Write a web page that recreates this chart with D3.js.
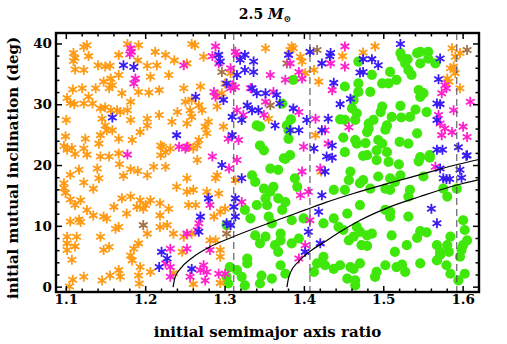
<!DOCTYPE html>
<html>
<head>
<meta charset="utf-8">
<script src="https://cdn.jsdelivr.net/npm/d3@7"></script>
<style>
  body { margin: 0; background: #fff; }
  svg text { font-family: "DejaVu Serif", serif; font-weight: bold; fill: #000; }
</style>
</head>
<body>
<svg id="chart" width="507" height="344"></svg>
<script>
// Runs, one array per outcome colour: [initial semimajor axis ratio, initial mutual inclination (deg)]
var orangeStars = [
  [1.109,38.5],[1.111,37.7],[1.109,37.2],[1.111,35.8],[1.108,32.5],[1.101,31.1],[1.105,30.3],[1.110,30.1],
  [1.100,27.5],[1.099,24.8],[1.097,23.2],[1.101,22.6],[1.107,22.9],[1.111,21.9],[1.116,19.3],[1.105,18.5],
  [1.097,17.1],[1.097,16.3],[1.099,15.5],[1.105,14.4],[1.111,13.5],[1.105,10.8],[1.116,11.1],[1.113,8.3],
  [1.101,8.3],[1.101,7.2],[1.111,6.7],[1.101,6.1],[1.107,4.5],[1.108,1.2],[1.104,0.1],
  [1.122,39.5],[1.126,39.8],[1.122,35.7],[1.128,38.0],[1.140,36.5],[1.149,36.3],[1.155,36.4],[1.166,38.2],
  [1.177,40.0],[1.191,39.8],[1.190,37.3],[1.202,36.4],[1.212,38.7],[1.214,36.5],[1.225,38.2],[1.236,37.3],
  [1.229,34.9],[1.206,34.6],[1.166,34.9],[1.156,34.3],[1.147,33.8],[1.154,32.7],[1.158,33.2],[1.120,32.7],
  [1.137,32.7],[1.170,31.9],[1.181,30.5],[1.191,32.1],[1.204,32.0],[1.217,32.4],[1.122,30.2],[1.128,31.3],
  [1.133,30.2],[1.143,29.4],[1.149,29.6],[1.156,29.1],[1.164,29.1],[1.168,28.8],[1.177,29.1],[1.145,27.7],
  [1.149,26.6],[1.158,25.8],[1.151,25.8],[1.166,24.4],[1.143,25.0],[1.183,24.2],[1.181,27.5],[1.193,25.5],
  [1.202,26.6],[1.202,27.7],[1.217,28.3],[1.233,27.2],[1.240,28.8],[1.250,30.5],[1.248,32.7],[1.122,22.8],
  [1.126,21.8],[1.124,24.4],[1.141,23.6],[1.143,21.5],[1.154,21.5],[1.166,22.0],[1.219,23.3],[1.221,23.1],
  [1.231,22.8],[1.219,21.7],[1.225,22.2],
  [1.139,19.5],[1.167,20.2],[1.181,19.4],[1.172,18.3],[1.190,19.1],[1.202,18.4],[1.210,19.8],[1.225,19.8],
  [1.122,17.2],[1.134,16.2],[1.141,17.9],[1.118,14.3],[1.126,12.7],[1.134,11.8],[1.160,13.2],[1.170,14.6],
  [1.181,14.9],[1.193,14.3],[1.206,14.3],[1.200,13.5],[1.197,12.9],[1.189,13.2],[1.218,13.8],[1.239,16.5],
  [1.229,12.9],[1.218,11.8],[1.147,11.6],[1.151,11.3],[1.176,12.1],[1.118,10.7],[1.162,9.6],[1.166,9.9],
  [1.202,8.8],[1.218,9.9],[1.227,10.2],[1.235,8.8],[1.143,8.3],[1.191,7.2],[1.185,6.3],[1.181,5.2],
  [1.147,6.1],[1.154,6.6],[1.122,1.7],[1.145,1.1],[1.155,1.9],[1.166,2.8],[1.168,1.7],[1.183,4.4],
  [1.193,3.3],[1.191,1.9],[1.192,0.6],[1.206,2.5],[1.248,8.3],[1.246,5.8],[1.235,2.3],[1.294,0.7],[1.260,0.5],
  [1.262,39.8],[1.273,37.9],[1.252,36.8],[1.269,33.0],[1.290,31.6],[1.258,30.8],[1.267,29.9],[1.290,29.7],
  [1.256,29.1],[1.271,29.1],[1.279,27.2],[1.275,26.4],[1.277,25.3],[1.258,28.0],[1.298,26.4],[1.267,24.2],
  [1.265,23.3],[1.260,22.8],[1.254,23.1],[1.296,31.9],[1.307,35.2],[1.351,39.3],[1.384,39.6],[1.386,39.3],
  [1.382,39.0],[1.395,37.9],[1.397,37.1],[1.401,35.2],[1.418,33.8],[1.412,35.7],[1.414,25.0],[1.355,27.7],
  [1.252,26.9],[1.300,33.5],[1.258,40.0],
  [1.265,20.9],[1.290,18.4],[1.288,17.9],[1.252,17.9],[1.260,16.0],[1.252,15.7],[1.277,15.7],[1.292,15.4],
  [1.254,13.5],[1.263,13.5],[1.294,12.4],[1.300,12.9],[1.286,11.6],[1.313,17.6],[1.281,7.7],[1.288,7.7],
  [1.294,6.1],[1.294,5.0],[1.258,8.8],[1.421,19.0],
  [1.489,39.6],[1.474,38.6],[1.448,38.0],[1.586,39.3],[1.590,37.9],[1.596,38.5],[1.584,36.0],[1.588,36.3],
  [1.590,35.2],[1.580,34.3],[1.582,33.8],[1.596,32.7]
];

var brownStars = [
  [1.197,10.2],[1.302,8.8],[1.296,35.4],[1.378,36.8],[1.357,29.9],[1.416,39.0],[1.605,39.0]
];

var magentaStars = [
  [1.181,39.3],[1.182,38.7],[1.180,38.3],[1.187,34.3],[1.185,33.5],[1.248,36.5],[1.242,23.1],[1.252,23.1],
  [1.177,21.8],[1.252,8.8],[1.231,6.3],[1.252,6.3],[1.225,3.9],[1.231,3.3],[1.231,1.7],
  [1.288,39.6],[1.284,38.0],[1.292,36.8],[1.313,38.7],[1.315,38.2],[1.307,36.0],[1.309,33.2],[1.307,32.7],
  [1.313,32.9],[1.286,32.1],[1.288,31.3],[1.332,32.7],[1.351,30.5],[1.361,32.1],[1.357,34.9],[1.376,34.1],
  [1.397,34.3],[1.393,35.4],[1.382,36.8],[1.315,29.1],[1.323,28.3],[1.349,28.3],[1.393,28.8],[1.414,27.7],
  [1.317,24.2],[1.304,24.4],[1.284,21.5],[1.399,23.1],[1.250,22.8],
  [1.315,20.9],[1.305,19.5],[1.281,13.5],[1.321,14.0],[1.267,10.5],[1.265,9.4],[1.281,6.1],[1.273,3.6],
  [1.269,2.8],[1.277,2.5],[1.275,1.1],[1.292,2.2],[1.300,2.2],[1.256,1.7],[1.397,19.0],[1.405,15.7],
  [1.395,15.1],[1.407,11.0],[1.401,6.9],[1.393,4.7],
  [1.451,39.6],[1.433,36.8],[1.451,36.3],[1.435,32.4],[1.577,33.2],[1.579,32.7],[1.573,31.9],[1.609,30.5],
  [1.588,29.1],[1.569,28.3],[1.600,26.4],[1.571,26.9],[1.577,26.1],[1.586,25.5],[1.573,25.0],[1.605,24.7],
  [1.456,26.3],[1.426,25.8],[1.430,23.6],[1.565,19.8],[1.420,19.5]
];

var blueStars = [
  [1.172,36.5],[1.185,36.2],[1.158,27.9],[1.239,25.0],[1.220,5.8],[1.227,4.7],[1.217,3.3],
  [1.292,38.2],[1.294,37.1],[1.319,37.4],[1.325,38.2],[1.336,37.1],[1.325,35.7],[1.336,35.4],[1.315,34.9],
  [1.302,33.5],[1.263,31.3],[1.298,30.8],[1.334,32.7],[1.340,31.9],[1.351,31.9],[1.365,31.6],[1.328,29.9],
  [1.334,29.1],[1.342,29.1],[1.321,27.5],[1.309,28.0],[1.309,25.0],[1.363,26.6],[1.369,30.2],[1.386,29.4],
  [1.382,25.8],[1.393,25.8],[1.403,27.5],[1.422,25.8],[1.380,38.2],[1.407,38.7],[1.412,22.8],
  [1.296,20.1],[1.321,17.9],[1.279,14.6],[1.313,14.6],[1.311,13.2],[1.313,11.6],[1.269,11.6],[1.302,10.5],
  [1.307,10.2],[1.267,9.1],[1.258,3.0],[1.418,12.4],[1.405,9.1],[1.401,5.8],[1.422,15.1],
  [1.521,40.0],[1.433,38.5],[1.422,36.8],[1.474,37.5],[1.485,37.5],[1.493,36.5],[1.470,35.3],[1.474,35.4],
  [1.437,33.6],[1.458,31.0],[1.445,30.1],[1.569,34.2],[1.567,30.2],[1.571,30.1],[1.430,27.7],[1.567,27.5],
  [1.435,23.3],[1.567,22.6],[1.574,22.6],[1.594,23.0],[1.605,21.7],[1.432,38.0],[1.571,37.6],
  [1.428,21.5],[1.435,21.3],[1.426,19.0],[1.571,19.5],[1.575,17.9],[1.579,17.8],[1.583,17.8],[1.596,19.3],
  [1.598,18.0],[1.604,21.6],[1.560,12.9],[1.567,10.5],[1.420,7.2]
];

var greenDots = [
  [1.386,34.1],[1.372,30.2],[1.340,26.6],[1.344,26.4],[1.378,26.6],[1.383,27.6],[1.380,25.8],[1.380,24.4],
  [1.344,23.3],[1.349,22.5],[1.376,21.1],[1.382,21.7],
  [1.374,21.2],[1.357,19.5],[1.367,19.3],[1.334,18.4],[1.338,17.3],[1.349,16.2],[1.361,16.5],[1.357,15.7],
  [1.351,14.6],[1.367,14.6],[1.388,17.9],[1.391,16.5],[1.340,13.5],[1.353,13.5],[1.325,12.7],[1.376,14.0],
  [1.372,12.7],[1.384,11.0],[1.355,11.6],[1.332,11.3],[1.399,11.3],[1.302,10.2],[1.338,8.5],[1.351,8.3],
  [1.370,8.8],[1.370,7.7],[1.344,7.2],[1.363,6.9],[1.384,7.2],[1.393,8.0],[1.328,4.7],[1.328,3.9],
  [1.306,3.3],[1.315,2.8],[1.321,1.7],[1.302,1.7],[1.304,0.6],[1.325,0.3],[1.346,1.9],[1.359,1.4],
  [1.370,3.6],[1.376,2.2],[1.344,0.6],[1.412,2.5],[1.416,3.9],[1.359,10.5],[1.367,5.8],
  [1.521,38.5],[1.523,37.8],[1.530,37.5],[1.542,38.5],[1.546,38.7],[1.556,38.7],[1.556,37.6],[1.565,36.8],
  [1.546,36.8],[1.527,36.8],[1.531,35.7],[1.535,34.9],[1.468,37.1],[1.485,34.9],[1.508,35.4],[1.516,34.1],
  [1.506,33.5],[1.498,33.5],[1.468,33.5],[1.451,33.0],[1.468,32.1],[1.483,32.1],[1.462,30.8],[1.544,32.4],
  [1.546,31.3],[1.550,31.9],[1.521,29.8],[1.498,29.7],[1.496,28.8],[1.487,27.5],[1.481,26.9],[1.460,29.4],
  [1.466,28.6],[1.464,27.5],[1.451,27.5],[1.445,27.6],[1.510,28.0],[1.522,27.9],[1.533,28.0],[1.540,29.2],
  [1.554,28.8],[1.481,26.1],[1.504,26.6],[1.502,25.9],[1.542,25.3],[1.531,23.6],[1.479,25.5],[1.449,24.6],
  [1.464,24.2],[1.466,23.6],[1.477,23.7],[1.493,24.2],[1.498,23.6],[1.520,23.9],[1.451,22.2],[1.491,22.5],
  [1.504,22.2],[1.558,21.7],[1.546,21.4],[1.479,21.7],
  [1.474,21.6],[1.491,20.9],[1.506,20.6],[1.519,20.2],[1.544,20.7],[1.558,21.3],[1.458,19.0],[1.456,17.6],
  [1.437,16.0],[1.451,16.0],[1.470,17.1],[1.474,17.6],[1.483,16.2],[1.493,18.2],[1.508,17.9],[1.514,17.3],
  [1.521,18.4],[1.502,16.2],[1.508,16.0],[1.533,16.0],[1.531,14.9],[1.550,18.2],[1.580,14.9],[1.575,16.2],
  [1.470,13.5],[1.502,12.7],[1.508,12.4],[1.508,11.6],[1.454,12.1],[1.437,11.3],[1.424,10.5],[1.443,9.9],
  [1.449,9.4],[1.466,9.9],[1.470,9.1],[1.479,8.5],[1.485,8.8],[1.462,8.3],[1.456,7.7],[1.472,6.9],
  [1.479,6.8],[1.510,8.5],[1.531,11.6],[1.546,9.2],[1.554,9.0],[1.529,6.9],[1.514,5.8],[1.542,8.1],
  [1.567,6.9],[1.580,6.9],[1.584,8.3],[1.582,5.8],[1.571,5.8],[1.571,5.3],[1.567,4.4],[1.579,3.6],
  [1.600,11.0],[1.602,9.4],[1.605,7.7],[1.600,6.9],[1.598,6.1],[1.596,5.0],[1.602,2.2],[1.594,1.1],
  [1.584,2.2],[1.546,3.9],[1.516,3.3],[1.502,3.6],[1.491,2.5],[1.470,3.9],[1.462,3.0],[1.458,3.3],
  [1.445,3.6],[1.437,3.0],[1.426,3.6],[1.424,5.0],[1.454,1.4],[1.464,1.1],[1.464,0.3],[1.489,1.7],
  [1.527,2.5],[1.523,3.7],[1.592,16.2]
];

// Boundary curves and dashed reference ratios
var curveUpper = [
  [1.2345,0],[1.237,1.6],[1.2436,3.0],[1.2583,4.8],[1.2792,6.5],[1.3087,8.2],[1.3422,9.9],[1.3758,11.5],
  [1.401,12.7],[1.4262,13.9],[1.4618,15.4],[1.5039,17.0],[1.5458,18.5],[1.5878,20.0],[1.620,21.0]
];
var curveLower = [
  [1.378,0],[1.3795,1.2],[1.3821,2.3],[1.3926,4.2],[1.4094,6.1],[1.4262,7.5],[1.4451,9.1],[1.4703,11.0],
  [1.5039,13.0],[1.5458,14.9],[1.592,16.8],[1.620,17.7]
];
var dashRatios = [1.311, 1.407, 1.592];

var xMajor = [1.1, 1.2, 1.3, 1.4, 1.5, 1.6];
var yMajor = [0, 10, 20, 30, 40];

// Frame
var frame = { l: 56, r: 479, t: 33, b: 292 };

var x = d3.scaleLinear().domain([1.087, 1.620]).range([frame.l, frame.r]);
var y = d3.scaleLinear().domain([-0.8, 41.8]).range([frame.b, frame.t]);

var svg = d3.select("#chart");

svg.append("rect")
  .attr("width", 507).attr("height", 344)
  .style("fill", "#fff");

svg.append("clipPath").attr("id", "plotclip")
  .append("rect")
    .attr("x", frame.l).attr("y", frame.t)
    .attr("width", frame.r - frame.l).attr("height", frame.b - frame.t);

var plot = svg.append("g").attr("clip-path", "url(#plotclip)");

// Six-armed asterisk
function star(r) {
  var c = r * Math.cos(Math.PI / 6), s = r * Math.sin(Math.PI / 6);
  return "M0," + (-r) + "L0," + r +
    "M" + (-c) + "," + (-s) + "L" + c + "," + s +
    "M" + (-c) + "," + s + "L" + c + "," + (-s);
}

function translate(a, b) {
  return "translate(" + a + "," + b + ")";
}

// Green dots underneath
plot.selectAll("circle.green")
  .data(greenDots)
  .enter().append("circle")
    .attr("class", "green")
    .attr("cx", function(d) { return x(d[0]); })
    .attr("cy", function(d) { return y(d[1]); })
    .attr("r", 5.1)
    .style("fill", "#3fe80a");

function drawStars(data, cls, color) {
  plot.selectAll("path." + cls)
    .data(data)
    .enter().append("path")
      .attr("class", cls)
      .attr("d", star(5))
      .attr("transform", function(d) { return translate(x(d[0]), y(d[1])); })
      .style("fill", "none")
      .style("stroke", color)
      .style("stroke-width", 1.8);
}

drawStars(orangeStars, "orange", "#ff9a14");
drawStars(brownStars, "brown", "#a5744a");
drawStars(magentaStars, "magenta", "#ff22cc");
drawStars(blueStars, "blue", "#3a1cf5");

// Dashed vertical lines
plot.selectAll("line.dash")
  .data(dashRatios)
  .enter().append("line")
    .attr("class", "dash")
    .attr("x1", function(d) { return x(d); })
    .attr("x2", function(d) { return x(d); })
    .attr("y1", frame.t).attr("y2", frame.b)
    .style("stroke", "#555")
    .style("stroke-width", 1.1)
    .style("stroke-dasharray", "7,4");

// Boundary curves
var line = d3.line()
  .x(function(d) { return x(d[0]); })
  .y(function(d) { return y(d[1]); })
  .curve(d3.curveMonotoneX);

[curveUpper, curveLower].forEach(function(c) {
  plot.append("path")
    .attr("d", line(c))
    .style("fill", "none")
    .style("stroke", "#000")
    .style("stroke-width", 1.2);
});

// Ticks on all four sides, pointing inward
var xMinor = d3.range(1.1, 1.62, 0.02).filter(function(v) {
  return Math.abs(Math.round(v * 10) - v * 10) > 0.01;
});
var yMinor = d3.range(0, 42, 2).filter(function(v) { return v % 10 !== 0; });

var ticks = svg.append("g").style("stroke", "#000").style("stroke-width", 1.5);

function tickSet(vals, len) {
  vals.forEach(function(v) {
    var px = x(v);
    ticks.append("line").attr("x1", px).attr("x2", px).attr("y1", frame.b).attr("y2", frame.b - len);
    ticks.append("line").attr("x1", px).attr("x2", px).attr("y1", frame.t).attr("y2", frame.t + len);
  });
}
function tickSetY(vals, len) {
  vals.forEach(function(v) {
    var py = y(v);
    ticks.append("line").attr("y1", py).attr("y2", py).attr("x1", frame.l).attr("x2", frame.l + len);
    ticks.append("line").attr("y1", py).attr("y2", py).attr("x1", frame.r).attr("x2", frame.r - len);
  });
}
tickSet(xMajor, 6);
tickSet(xMinor, 3.5);
tickSetY(yMajor, 6);
tickSetY(yMinor, 3.5);

// Frame
svg.append("rect")
  .attr("x", frame.l).attr("y", frame.t)
  .attr("width", frame.r - frame.l).attr("height", frame.b - frame.t)
  .style("fill", "none")
  .style("stroke", "#000")
  .style("stroke-width", 2.4);

// Tick labels
svg.selectAll("text.xtick")
  .data(xMajor)
  .enter().append("text")
    .attr("class", "xtick")
    .attr("x", function(d) { return x(d); })
    .attr("y", 304)
    .attr("text-anchor", "middle")
    .style("font-size", "13.5px")
    .text(d3.format(".1f"));

svg.selectAll("text.ytick")
  .data(yMajor)
  .enter().append("text")
    .attr("class", "ytick")
    .attr("x", 52)
    .attr("y", function(d) { return y(d) + 4.5; })
    .attr("text-anchor", "end")
    .style("font-size", "13.5px")
    .text(function(d) { return d; });

// Axis titles
svg.append("text")
  .attr("x", (frame.l + frame.r) / 2)
  .attr("y", 337)
  .attr("text-anchor", "middle")
  .style("font-size", "15px")
  .text("initial semimajor axis ratio");

svg.append("text")
  .attr("transform", translate(18, 168) + " rotate(-90)")
  .attr("text-anchor", "middle")
  .style("font-size", "15px")
  .text("initial mutual inclination (deg)");

// Title
var title = svg.append("text")
  .attr("x", 265)
  .attr("y", 19)
  .attr("text-anchor", "middle")
  .style("font-size", "14px");
title.append("tspan").text("2.5 ");
title.append("tspan").style("font-style", "italic").text("M");
title.append("tspan").attr("dy", 3).style("font-size", "9px").text("\u2299");
</script>
</body>
</html>
